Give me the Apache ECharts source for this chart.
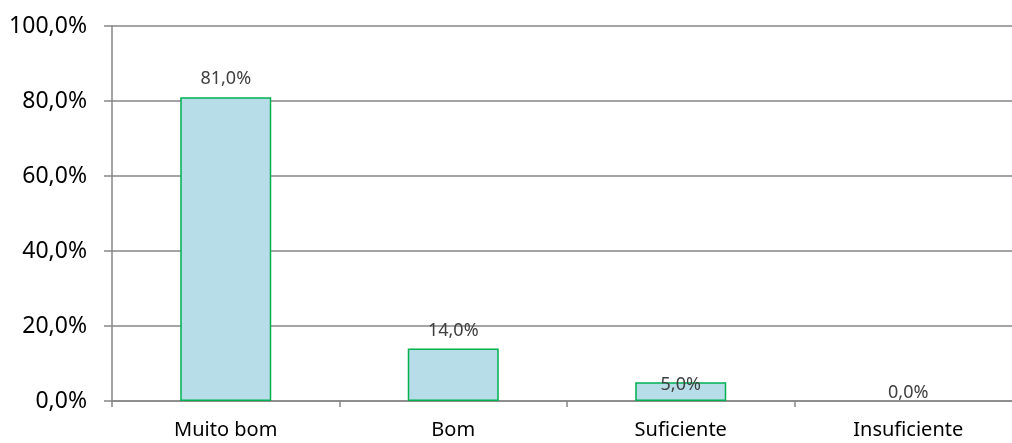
<!DOCTYPE html>
<html>
<head>
<meta charset="utf-8">
<script src="https://cdn.jsdelivr.net/npm/echarts@6/dist/echarts.min.js"></script>
<style>html,body{margin:0;padding:0;background:#fff;overflow:hidden;width:1012px;height:443px;}#c{width:1022px;height:443px;}</style>
</head>
<body>
<div id="c"></div>
<script>
const categories = ["Muito bom", "Bom", "Suficiente", "Insuficiente"];
const values = [81.0, 14.0, 5.0, 0.0];
const yTicks = [0, 20, 40, 60, 80, 100];
const labelOffsets = [[0, -1], [0, -1], [0, 20], [0, 9]];

const fmt = v => v.toFixed(1).replace('.', ',') + '%';
const chart = echarts.init(document.getElementById('c'));
chart.setOption({
  animation: false,
  grid: { left: 112, right: 0, top: 26, bottom: 42, containLabel: false },
  xAxis: {
    type: 'category',
    data: categories,
    axisLine: { lineStyle: { color: '#868686', width: 1.5 } },
    axisTick: { show: true, length: 6, lineStyle: { color: '#868686', width: 1.5 } },
    axisLabel: { color: '#000', fontFamily: 'Noto Sans', fontSize: 20, margin: 19 }
  },
  yAxis: {
    type: 'value',
    min: yTicks[0], max: yTicks[yTicks.length - 1], interval: 20,
    axisLine: { show: true, lineStyle: { color: '#868686', width: 1.5 } },
    axisTick: { show: true, length: 8, lineStyle: { color: '#868686', width: 1.5 } },
    splitLine: { lineStyle: { color: '#868686', width: 1.5 } },
    axisLabel: { color: '#000', fontFamily: 'Noto Sans', fontSize: 23, margin: 25, formatter: v => fmt(v) }
  },
  series: [{
    type: 'bar',
    barWidth: '40%',
    data: values.map((v, i) => ({
      value: v,
      label: { offset: labelOffsets[i] },
      itemStyle: v === 0 ? { borderWidth: 0 } : undefined
    })),
    itemStyle: { color: '#B7DEE8', borderColor: '#00B050', borderWidth: 1.5 },
    label: {
      show: true, position: 'top', distance: 8,
      color: '#404040', fontFamily: 'Noto Sans', fontSize: 18,
      formatter: p => fmt(p.value)
    }
  }]
});
</script>
</body>
</html>
